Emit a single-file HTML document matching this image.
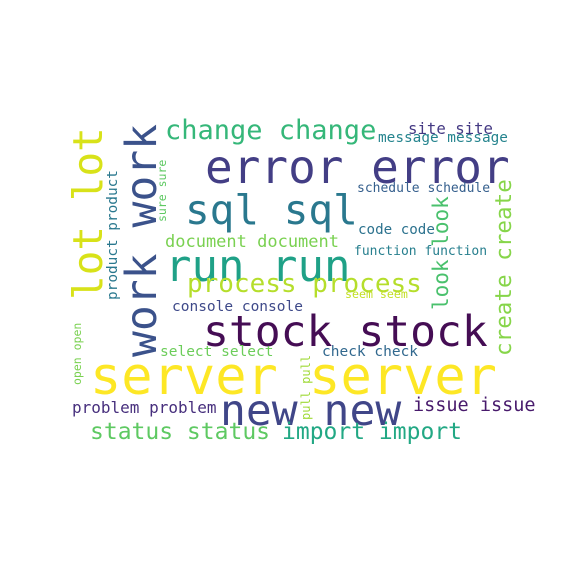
<!DOCTYPE html>
<html><head><meta charset="utf-8"><style>
html,body{margin:0;padding:0;background:#fff;}
#cloud{position:relative;width:576px;height:576px;overflow:hidden;background:#fff;font-family:"DejaVu Sans Mono","Liberation Mono",monospace;}
.w{position:absolute;white-space:nowrap;line-height:1;}
.v{transform:rotate(-90deg);transform-origin:0 0;}
</style></head><body>
<div id="cloud">
<div class="w" style="left:90px;top:351px;font-size:52px;color:#fde725">server server</div>
<div class="w" style="left:203px;top:311px;font-size:43px;color:#450d54">stock stock</div>
<div class="w" style="left:220px;top:390px;font-size:43px;color:#404688">new new</div>
<div class="w" style="left:205px;top:144px;font-size:46px;color:#433e85">error error</div>
<div class="w" style="left:185px;top:190px;font-size:41px;color:#2a788e">sql sql</div>
<div class="w" style="left:165px;top:245px;font-size:44px;color:#1fa187">run run</div>
<div class="w" style="left:165px;top:117px;font-size:27px;color:#35b779">change change</div>
<div class="w" style="left:187px;top:271px;font-size:26px;color:#b5de2b">process process</div>
<div class="w" style="left:165px;top:234px;font-size:17px;color:#7ad151">document document</div>
<div class="w" style="left:172px;top:300px;font-size:14.5px;color:#3e4989">console console</div>
<div class="w" style="left:160px;top:345px;font-size:14.5px;color:#6ccd5a">select select</div>
<div class="w" style="left:72px;top:400px;font-size:16px;color:#472f7d">problem problem</div>
<div class="w" style="left:90px;top:421px;font-size:23px;color:#5ec962">status status</div>
<div class="w" style="left:282px;top:421px;font-size:23px;color:#22a884">import import</div>
<div class="w" style="left:413px;top:397px;font-size:18.5px;color:#481a6c">issue issue</div>
<div class="w" style="left:322px;top:345px;font-size:14.5px;color:#31688e">check check</div>
<div class="w" style="left:345px;top:289px;font-size:11.6px;color:#c2df23">seem seem</div>
<div class="w" style="left:358px;top:223px;font-size:14.2px;color:#2c728e">code code</div>
<div class="w" style="left:354px;top:245px;font-size:13px;color:#277f8e">function function</div>
<div class="w" style="left:357px;top:182px;font-size:13px;color:#355f8d">schedule schedule</div>
<div class="w" style="left:408px;top:121px;font-size:15.7px;color:#443983">site site</div>
<div class="w" style="left:378px;top:131px;font-size:14.4px;color:#25848e">message message</div>
<div class="w v" style="left:121px;top:357px;font-size:43px;color:#3b528b">work work</div>
<div class="w v" style="left:68px;top:300px;font-size:41px;color:#d8e219">lot lot</div>
<div class="w v" style="left:106px;top:300px;font-size:14.4px;color:#2a788e">product product</div>
<div class="w v" style="left:157px;top:222px;font-size:11.5px;color:#5ec962">sure sure</div>
<div class="w v" style="left:72px;top:385px;font-size:11.5px;color:#7ad151">open open</div>
<div class="w v" style="left:300px;top:420px;font-size:12px;color:#a0da39">pull pull</div>
<div class="w v" style="left:431px;top:310px;font-size:21px;color:#4ac16d">look look</div>
<div class="w v" style="left:493px;top:356px;font-size:22.6px;color:#86d549">create create</div>
</div>
</body></html>
